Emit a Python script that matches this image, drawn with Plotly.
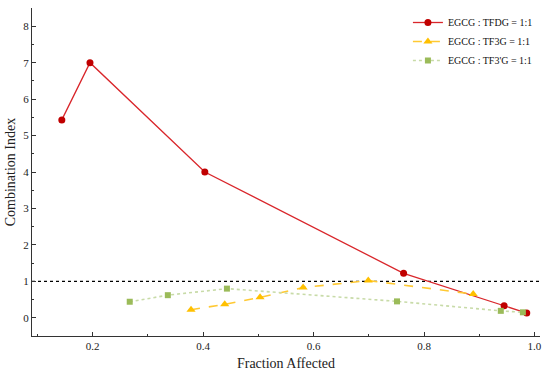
import plotly.graph_objects as go

tfdg_x = [0.144, 0.195, 0.403, 0.763, 0.945, 0.986]
tfdg_y = [5.43, 7.0, 4.0, 1.22, 0.33, 0.13]

tf3g_x = [0.378, 0.439, 0.503, 0.581, 0.699, 0.889]
tf3g_y = [0.22, 0.37, 0.56, 0.83, 1.02, 0.65]

tf3pg_x = [0.267, 0.336, 0.443, 0.751, 0.939, 0.979]
tf3pg_y = [0.44, 0.62, 0.80, 0.45, 0.19, 0.15]

names = ["EGCG : TFDG = 1:1", "EGCG : TF3G = 1:1", "EGCG : TF3'G = 1:1"]

font = "Liberation Serif, Times New Roman, serif"

fig = go.Figure()
fig.add_trace(go.Scatter(x=tfdg_x, y=tfdg_y, mode="lines+markers", name=names[0],
                         line=dict(color="#D9262B", width=1.3),
                         marker=dict(symbol="circle", size=7, color="#C00000")))
fig.add_trace(go.Scatter(x=tf3g_x, y=tf3g_y, mode="lines+markers", name=names[1],
                         line=dict(color="#FFC933", width=1.6, dash="dash"),
                         marker=dict(symbol="triangle-up", size=8, color="#FFC000")))
fig.add_trace(go.Scatter(x=tf3pg_x, y=tf3pg_y, mode="lines+markers", name=names[2],
                         line=dict(color="#C8DBA8", width=1.6, dash="dot"),
                         marker=dict(symbol="square", size=6, color="#9BBB59")))

fig.add_shape(type="line", xref="x domain", yref="y", x0=0, x1=1, y0=1, y1=1,
              line=dict(color="black", width=1.2, dash="dot"), layer="below")

fig.update_layout(
    width=550, height=375,
    margin=dict(l=32, r=10, t=8, b=39),
    paper_bgcolor="white", plot_bgcolor="white",
    font=dict(family=font, size=11, color="#222"),
    showlegend=True,
    legend=dict(x=0.74, y=1.0, xanchor="left", yanchor="top",
                bgcolor="rgba(0,0,0,0)", font=dict(family=font, size=10, color="#111"),
                tracegroupgap=0, itemwidth=30),
    xaxis=dict(range=[0.09, 1.01], tick0=0, dtick=0.2, tickformat=".1f",
               showgrid=False, zeroline=False, showline=True, linecolor="#333", linewidth=1,
               ticks="inside", ticklen=4, tickcolor="#333",
               minor=dict(ticks="inside", dtick=0.1, ticklen=2, tickcolor="#333"),
               title=dict(text="Fraction Affected", font=dict(family=font, size=14), standoff=6)),
    yaxis=dict(range=[-0.5, 8.5], tick0=0, dtick=1,
               showgrid=False, zeroline=False, showline=True, linecolor="#333", linewidth=1,
               ticks="inside", ticklen=4, tickcolor="#333",
               minor=dict(ticks="inside", dtick=0.5, ticklen=2, tickcolor="#333"),
               title=dict(text="Combination Index", font=dict(family=font, size=14), standoff=4)),
)

fig.write_html("out.html", config={"displayModeBar": False},
               post_script="document.body.style.margin='0px';document.body.style.overflow='hidden';")
